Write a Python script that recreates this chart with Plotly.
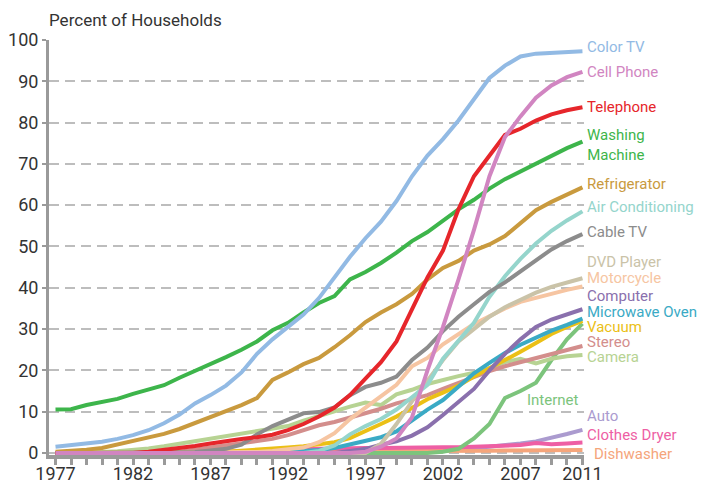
import plotly.graph_objects as go

years = list(range(1977, 2012))

color_tv = [1.5, 1.9, 2.3, 2.7, 3.4, 4.3, 5.5, 7.2, 9.3, 12.0, 14.0, 16.3, 19.5, 24.0, 27.5,
            30.5, 33.5, 37.5, 42.5, 47.5, 52.0, 56.0, 61.0, 67.0, 72.0, 76.0, 80.5, 85.5, 90.8,
            93.8, 96.0, 96.7, 96.9, 97.1, 97.3]
cell_phone = [0, 0, 0, 0, 0, 0, 0, 0, 0, 0, 0, 0, 0, 0, 0, 0, 0, 0, 0, 0, 0.3, 1.5, 3.5,
              8.6, 20.0, 30.5, 42.0, 54.0, 67.0, 76.5, 81.5, 86.0, 89.0, 91.0, 92.3]
telephone = [0, 0, 0, 0, 0, 0, 0.3, 0.7, 1.1, 1.7, 2.3, 2.9, 3.4, 3.8, 4.4, 5.5, 7.0, 8.8,
             11.0, 14.0, 18.0, 22.0, 27.0, 34.5, 42.5, 49.0, 59.0, 67.0, 72.0, 77.0, 78.5,
             80.5, 82.0, 83.0, 83.7]
washing = [10.5, 10.6, 11.6, 12.3, 13.1, 14.3, 15.4, 16.4, 18.2, 19.8, 21.5, 23.2, 25.0,
           27.0, 29.7, 31.5, 34.0, 36.3, 38.0, 42.0, 43.8, 46.0, 48.5, 51.3, 53.5, 56.2,
           59.0, 61.3, 64.0, 66.3, 68.2, 70.2, 72.0, 73.8, 75.4]
refrigerator = [0.3, 0.5, 0.8, 1.2, 2.0, 2.8, 3.8, 4.6, 5.8, 7.2, 8.6, 10.0, 11.6, 13.3,
                17.7, 19.5, 21.5, 23.0, 25.6, 28.5, 31.7, 34.0, 36.0, 38.5, 42.0, 44.8,
                46.5, 49.0, 50.5, 52.5, 55.8, 58.8, 60.8, 62.5, 64.3]
air_cond = [0, 0, 0, 0, 0, 0, 0, 0, 0, 0, 0, 0, 0, 0, 0, 0, 0, 0.5, 1.8, 4.5, 6.5, 8.2,
            10.5, 13.5, 16.5, 22.8, 27.0, 31.5, 37.8, 42.8, 47.0, 50.7, 53.8, 56.3, 58.5]
cable_tv = [0, 0, 0, 0, 0, 0, 0, 0, 0, 0.2, 0.6, 1.0, 2.0, 4.5, 6.5, 8.0, 9.6, 9.9, 11.0,
            14.0, 16.0, 17.0, 18.5, 22.5, 25.5, 29.5, 33.0, 36.0, 39.0, 41.3, 44.0, 46.7,
            49.3, 51.3, 53.0]
dvd = [0, 0, 0, 0, 0, 0, 0, 0, 0, 0, 0, 0, 0, 0, 0, 0, 0, 0, 0, 0, 0, 2.2, 7.0, 12.5,
       17.5, 22.5, 27.0, 30.0, 33.0, 35.3, 37.0, 38.8, 40.2, 41.3, 42.3]
motorcycle = [0, 0, 0, 0, 0, 0, 0, 0, 0, 0, 0, 0, 0, 0.2, 0.5, 0.8, 1.3, 2.6, 4.8, 8.2,
              11.0, 14.0, 16.5, 21.0, 23.0, 26.3, 28.8, 31.2, 33.1, 35.0, 36.6, 37.6,
              38.7, 39.5, 40.3]
computer = [0, 0, 0, 0, 0, 0, 0, 0, 0, 0, 0, 0, 0, 0, 0, 0, 0, 0, 0, 0.5, 1.0, 2.0, 2.8,
            4.2, 6.2, 9.2, 12.5, 15.5, 20.0, 24.0, 27.5, 30.5, 32.3, 33.6, 34.8]
microwave = [0, 0, 0, 0, 0, 0, 0, 0, 0, 0, 0, 0, 0, 0, 0, 0.3, 0.5, 0.7, 1.2, 2.0, 3.0,
             3.8, 5.2, 7.8, 10.5, 12.8, 16.0, 19.3, 21.8, 24.2, 26.2, 28.0, 29.6, 31.0, 32.5]
vacuum = [0, 0, 0, 0, 0, 0, 0, 0, 0, 0, 0.2, 0.3, 0.5, 0.8, 1.0, 1.3, 1.6, 2.0, 2.6, 3.6,
          5.2, 7.0, 8.8, 11.0, 13.0, 14.6, 16.3, 18.5, 20.5, 22.3, 24.5, 26.6, 28.8, 30.5, 32.0]
stereo = [0, 0, 0, 0, 0, 0, 0, 0, 0.3, 0.8, 1.3, 1.8, 2.3, 2.8, 3.4, 4.3, 5.5, 6.7, 7.5,
          8.5, 9.5, 10.7, 12.0, 13.0, 14.0, 15.5, 17.0, 18.4, 19.8, 21.0, 22.0, 23.0, 24.0,
          25.0, 25.9]
camera = [0, 0, 0, 0.2, 0.4, 0.7, 1.1, 1.6, 2.2, 3.0, 3.6, 4.0, 4.6, 5.4, 6.0, 6.5, 7.8,
          9.0, 10.2, 11.2, 12.2, 11.6, 14.2, 15.3, 16.7, 17.7, 18.6, 19.4, 20.5, 22.0, 22.8,
          21.7, 22.8, 23.4, 23.7]
internet = [0, 0, 0, 0, 0, 0, 0, 0, 0, 0, 0, 0, 0, 0, 0, 0, 0, 0, 0, 0, 0, 0, 0, 0, 0, 0.3,
            1.0, 3.5, 7.0, 13.3, 15.0, 17.0, 22.5, 27.5, 31.3]
auto = [0, 0, 0, 0, 0, 0, 0, 0, 0, 0, 0, 0, 0, 0, 0, 0, 0, 0, 0, 0.3, 0.4, 0.5, 0.6, 0.7,
        0.8, 0.9, 1.0, 1.2, 1.5, 1.8, 2.3, 2.8, 3.6, 4.6, 5.6]
dryer = [0, 0, 0, 0, 0, 0, 0, 0, 0, 0, 0, 0, 0.3, 0.6, 0.8, 0.9, 1.0, 1.0, 1.1, 1.1, 1.2,
         1.2, 1.3, 1.3, 1.3, 1.4, 1.4, 1.5, 1.5, 1.6, 1.9, 2.4, 2.1, 2.3, 2.5]
dishwasher = [0, 0, 0, 0, 0, 0, 0.2, 0.3, 0.3, 0.3, 0.4, 0.4, 0.4, 0.4, 0.4, 0.4, 0.5, 0.5,
              0.5, 0.5, 0.5, 0.5, 0.5, 0.5, 0.5, 0.5, 0.5, 0.5, 0.5, 0.6, 0.6, 0.6, 0.6, 0.7, 0.7]

x_tick_labels = ["1977", "1982", "1987", "1992", "1997", "2002", "2007", "2011"]
y_ticks = [0, 10, 20, 30, 40, 50, 60, 70, 80, 90, 100]

# (name, values, colour, label text, label y, label style)
series = [
    ("Auto", auto, "#ab9bcf", "Auto", 9.0, "left"),
    ("Dishwasher", dishwasher, "#f5a57b", "Dishwasher", -0.2, "left2"),
    ("Clothes Dryer", dryer, "#ee5fa4", "Clothes Dryer", 4.3, "left"),
    ("Internet", internet, "#7cc47c", "Internet", 12.8, "right"),
    ("Camera", camera, "#b7d393", "Camera", 23.3, "left"),
    ("Stereo", stereo, "#d38e8c", "Stereo", 26.9, "left"),
    ("Vacuum", vacuum, "#ebc016", "Vacuum", 30.6, "left"),
    ("Microwave Oven", microwave, "#3aaac5", "Microwave Oven", 34.1, "left"),
    ("Computer", computer, "#8a70ad", "Computer", 38.0, "left"),
    ("Motorcycle", motorcycle, "#f6c5a2", "Motorcycle", 42.4, "left"),
    ("DVD Player", dvd, "#cac3a8", "DVD Player", 46.3, "left"),
    ("Air Conditioning", air_cond, "#95d5cc", "Air Conditioning", 59.5, "left"),
    ("Cable TV", cable_tv, "#8c8c8c", "Cable TV", 53.4, "left"),
    ("Refrigerator", refrigerator, "#c99a3e", "Refrigerator", 65.1, "left"),
    ("Washing Machine", washing, "#3db54b", "Washing<br>Machine", 74.5, "left"),
    ("Color TV", color_tv, "#92bae4", "Color TV", 98.2, "left"),
    ("Telephone", telephone, "#e6262b", "Telephone", 83.7, "left"),
    ("Cell Phone", cell_phone, "#d185c1", "Cell Phone", 92.2, "left"),
]

FONT = "Roboto, Arial, sans-serif"
LABEL_SIZE = 15

fig = go.Figure()
annotations = []
for name, vals, col, lab, ly, style in series:
    fig.add_trace(go.Scatter(x=years, y=vals, mode="lines", name=name,
                             line=dict(color=col, width=4), hoverinfo="skip"))
    if style == "right":
        annotations.append(dict(x=2011, y=ly, xref="x", yref="y", text=lab,
                                xanchor="right", yanchor="middle", showarrow=False,
                                xshift=-1,
                                font=dict(family=FONT, size=LABEL_SIZE, color=col)))
    else:
        annotations.append(dict(x=2011, y=ly, xref="x", yref="y", text=lab,
                                xanchor="left", yanchor="middle", showarrow=False,
                                xshift=3 if style == "left" else 10,
                                font=dict(family=FONT, size=LABEL_SIZE, color=col)))

annotations.append(dict(x=0, y=1, xref="paper", yref="paper", text="Percent of Households",
                        xanchor="left", yanchor="bottom", yshift=8, xshift=-2,
                        showarrow=False,
                        font=dict(family=FONT, size=17, color="#333333")))

tickvals_x = years
ticktext_x = [str(y) if str(y) in x_tick_labels else "" for y in years]

fig.update_layout(
    width=705, height=485,
    margin=dict(l=41, r=129, t=32, b=38),
    paper_bgcolor="white", plot_bgcolor="white",
    showlegend=False,
    annotations=annotations,
    font=dict(family=FONT, size=18, color="#333333"),
    xaxis=dict(range=[1976.58, 2011.1], tickmode="array", tickvals=tickvals_x,
               ticktext=ticktext_x, ticks="outside", ticklen=6, tickwidth=3,
               tickcolor="#9a9a9a", showline=True, linecolor="#9a9a9a", linewidth=4,
               showgrid=False, zeroline=False, automargin=False, ticklabelstandoff=-7,
               tickfont=dict(family=FONT, size=18, color="#333333")),
    yaxis=dict(range=[-0.5, 100], tickmode="array", tickvals=y_ticks,
               ticks="outside", ticklen=4, tickwidth=2, tickcolor="#9a9a9a",
               showline=True, linecolor="#9a9a9a", linewidth=3,
               showgrid=True, gridcolor="#bdbdbd", gridwidth=1.5, griddash="10px,6px",
               zeroline=False, automargin=False, ticklabelstandoff=0,
               tickfont=dict(family=FONT, size=18, color="#333333")),
)

fig.write_html("out.html")
